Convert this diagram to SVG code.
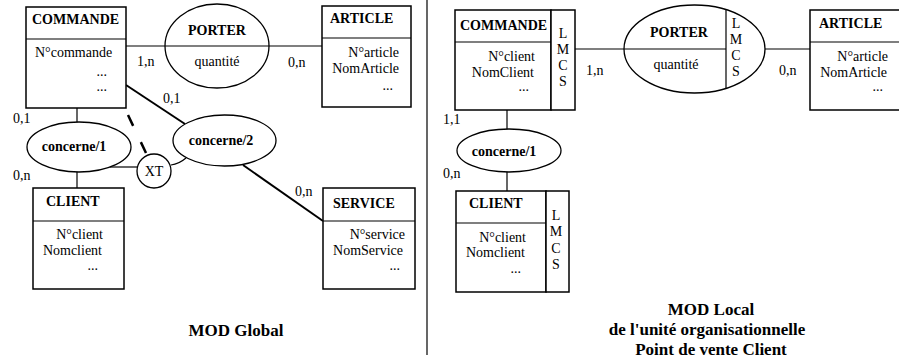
<svg xmlns="http://www.w3.org/2000/svg" width="899" height="362" viewBox="0 0 899 362" font-family="'Liberation Serif', 'DejaVu Serif', serif">
<style>
  text { font-family: "Liberation Serif", "DejaVu Serif", serif; fill: #000; }
  .ttl { font-size: 14px; font-weight: bold; }
  .att { font-size: 14px; }
  .lbl { font-size: 14px; }
  .rel { font-size: 14px; font-weight: bold; text-anchor: middle; }
  .big { font-size: 17px; font-weight: bold; text-anchor: middle; }
  .end { text-anchor: end; }
  .mid { text-anchor: middle; }
  .box { fill: #fff; stroke: #000; stroke-width: 1.5; }
  .ell { fill: #fff; stroke: #000; stroke-width: 1.3; }
  .ln { stroke: #000; stroke-width: 1.2; fill: none; }
  .thick { stroke: #000; stroke-width: 2; fill: none; }
</style>

<!-- connectors -->
<g id="connectors">
  <line class="ln" x1="126" y1="46" x2="166" y2="46"/>
  <line class="ln" x1="269" y1="46" x2="322" y2="46"/>
  <line class="ln" x1="77" y1="108" x2="77" y2="122"/>
  <line class="ln" x1="77" y1="172" x2="77" y2="188"/>
  <line class="thick" x1="126" y1="85" x2="185" y2="124"/>
  <line class="thick" x1="243" y1="165" x2="323" y2="221"/>
  <line class="ln" x1="110" y1="167" x2="137" y2="167"/>
  <path class="ln" d="M171,165 Q179,164 186,158"/>
  <line stroke="#000" stroke-width="2.5" stroke-dasharray="12 18" x1="128" y1="115" x2="146.5" y2="154"/>
  <line class="ln" x1="427" y1="0" x2="427" y2="355"/>
  <line class="ln" x1="575" y1="49" x2="624" y2="49"/>
  <line class="ln" x1="765" y1="49" x2="810" y2="49"/>
  <line class="ln" x1="507" y1="110" x2="507" y2="129"/>
  <line class="ln" x1="507" y1="172" x2="507" y2="191"/>
</g>

<!-- left: MOD Global -->
<g id="commande-g">
  <rect class="box" x="26" y="7" width="100" height="101"/>
  <line class="ln" x1="26" y1="39" x2="126" y2="39"/>
  <text class="ttl" x="32" y="24">COMMANDE</text>
  <text class="att" x="35" y="57">N°commande</text>
  <text class="att end" x="107" y="76">...</text>
  <text class="att end" x="107" y="91">...</text>
</g>
<g id="porter-g">
  <ellipse class="ell" cx="217" cy="46" rx="52" ry="42"/>
  <line class="ln" x1="165" y1="46" x2="269" y2="46"/>
  <text class="rel" x="217" y="35">PORTER</text>
  <text class="att mid" x="217" y="66">quantité</text>
</g>
<g id="article-g">
  <rect class="box" x="322" y="6" width="89" height="101"/>
  <line class="ln" x1="322" y1="38" x2="411" y2="38"/>
  <text class="ttl" x="330" y="23">ARTICLE</text>
  <text class="att end" x="399" y="57">N°article</text>
  <text class="att end" x="399" y="73">NomArticle</text>
  <text class="att end" x="393" y="90">...</text>
</g>
<g id="concerne1-g">
  <ellipse class="ell" cx="79" cy="147" rx="52" ry="25"/>
  <text class="rel" x="74" y="151">concerne/1</text>
</g>
<g id="concerne2-g">
  <ellipse class="ell" cx="224.5" cy="140.5" rx="51.5" ry="25.5"/>
  <text class="rel" x="221" y="145">concerne/2</text>
</g>
<g id="xt-g">
  <circle class="ell" cx="154" cy="171" r="17"/>
  <text class="att mid" x="154" y="176">XT</text>
</g>
<g id="client-g">
  <rect class="box" x="33" y="188" width="91" height="101"/>
  <line class="ln" x1="33" y1="221" x2="124" y2="221"/>
  <text class="ttl" x="46" y="206">CLIENT</text>
  <text class="att end" x="103" y="239">N°client</text>
  <text class="att end" x="102" y="255">Nomclient</text>
  <text class="att end" x="98" y="270">...</text>
</g>
<g id="service-g">
  <rect class="box" x="323" y="188" width="92" height="101"/>
  <line class="ln" x1="323" y1="221" x2="415" y2="221"/>
  <text class="ttl" x="333" y="208">SERVICE</text>
  <text class="att end" x="405" y="239">N°service</text>
  <text class="att end" x="403" y="255">NomService</text>
  <text class="att end" x="400" y="270">...</text>
</g>
<g id="labels-g">
  <text class="lbl" x="137" y="66">1,n</text>
  <text class="lbl" x="288" y="67">0,n</text>
  <text class="lbl" x="13" y="123">0,1</text>
  <text class="lbl" x="13" y="180">0,n</text>
  <text class="lbl" x="163" y="103">0,1</text>
  <text class="lbl" x="295" y="196">0,n</text>
  <text class="big" x="236" y="336">MOD Global</text>
</g>

<!-- right: MOD Local -->
<g id="commande-l">
  <rect class="box" x="455" y="10" width="96" height="100"/>
  <line class="ln" x1="455" y1="42" x2="551" y2="42"/>
  <rect class="box" x="551" y="10" width="24" height="100"/>
  <text class="ttl" x="460" y="30">COMMANDE</text>
  <text class="att end" x="535" y="61">N°client</text>
  <text class="att end" x="534" y="77">NomClient</text>
  <text class="att end" x="529" y="91">...</text>
  <text class="att mid" x="563" y="38">L</text>
  <text class="att mid" x="563" y="54">M</text>
  <text class="att mid" x="563" y="70">C</text>
  <text class="att mid" x="563" y="86">S</text>
</g>
<g id="porter-l">
  <ellipse class="ell" cx="694.5" cy="49" rx="70.5" ry="44"/>
  <line class="ln" x1="624" y1="49" x2="726" y2="49"/>
  <line class="ln" x1="726" y1="9.7" x2="726" y2="88.3"/>
  <text class="rel" x="679" y="37">PORTER</text>
  <text class="att mid" x="676" y="69">quantité</text>
  <text class="att mid" x="736" y="28">L</text>
  <text class="att mid" x="736" y="44">M</text>
  <text class="att mid" x="736" y="60">C</text>
  <text class="att mid" x="736" y="76">S</text>
</g>
<g id="article-l">
  <rect class="box" x="810" y="10" width="95" height="100"/>
  <line class="ln" x1="810" y1="42" x2="905" y2="42"/>
  <text class="ttl" x="819" y="28">ARTICLE</text>
  <text class="att end" x="888" y="61">N°article</text>
  <text class="att end" x="887" y="77">NomArticle</text>
  <text class="att end" x="883" y="91">...</text>
</g>
<g id="concerne1-l">
  <ellipse class="ell" cx="509" cy="150.5" rx="52" ry="21.5"/>
  <text class="rel" x="504" y="156">concerne/1</text>
</g>
<g id="client-l">
  <rect class="box" x="456" y="191" width="90" height="101"/>
  <line class="ln" x1="456" y1="223" x2="546" y2="223"/>
  <rect class="box" x="546" y="191" width="23" height="101"/>
  <text class="ttl" x="469" y="208">CLIENT</text>
  <text class="att end" x="526" y="242">N°client</text>
  <text class="att end" x="525" y="257">Nomclient</text>
  <text class="att end" x="521" y="273">...</text>
  <text class="att mid" x="556" y="220">L</text>
  <text class="att mid" x="556" y="236">M</text>
  <text class="att mid" x="556" y="253">C</text>
  <text class="att mid" x="556" y="269">S</text>
</g>
<g id="labels-l">
  <text class="lbl" x="586" y="75">1,n</text>
  <text class="lbl" x="779" y="75">0,n</text>
  <text class="lbl" x="443" y="124">1,1</text>
  <text class="lbl" x="443" y="178">0,n</text>
  <text class="big" x="711" y="315">MOD Local</text>
  <text class="big" x="707" y="335">de l'unité organisationnelle</text>
  <text class="big" x="711" y="355">Point de vente Client</text>
</g>
</svg>
